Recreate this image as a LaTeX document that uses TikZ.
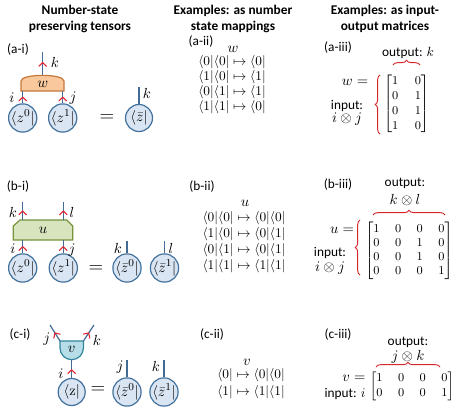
\documentclass[tikz,border=0pt]{standalone}
\usepackage{amsmath}
\usepackage[no-math]{fontspec}
\setmainfont{Carlito}
\usetikzlibrary{decorations.pathreplacing,decorations.markings}
\definecolor{legc}{RGB}{68,106,150}
\definecolor{circc}{RGB}{65,113,156}
\definecolor{circf}{RGB}{218,229,243}
\definecolor{redc}{RGB}{230,30,40}
\definecolor{bracec}{RGB}{214,38,42}
\definecolor{wfill}{RGB}{249,200,157}
\definecolor{wdraw}{RGB}{197,120,57}
\definecolor{ufill}{RGB}{215,228,189}
\definecolor{udraw}{RGB}{119,147,60}
\definecolor{vfill}{RGB}{183,222,232}
\definecolor{vdraw}{RGB}{49,133,156}
\begin{document}
\begin{tikzpicture}[x=0.75pt,y=-0.75pt,
  leg/.style={draw=legc, line width=0.9pt},
  arr/.style={postaction={decorate}, decoration={markings, mark=at position #1 with {\draw[draw=redc, line width=0.8pt, line cap=round, line join=round] (-2.8pt,2.8pt) -- (0pt,0pt) -- (-2.8pt,-2.8pt);}}},
  arr/.default=0.5,
  circ/.style={circle, draw=circc, fill=circf, line width=0.9pt, minimum size=20.25pt, inner sep=0pt, font=\fontsize{11}{13}\selectfont},
  lab/.style={font=\fontsize{10.5}{12}\selectfont, inner sep=0pt},
  body/.style={font=\fontsize{10}{12}\selectfont, inner sep=0pt, align=center},
  head/.style={font=\fontsize{10}{12}\selectfont\bfseries, align=center, inner sep=0pt},
  maprow/.style={font=\fontsize{10}{12}\selectfont, inner sep=0pt},
  eqs/.style={font=\fontsize{14}{16}\selectfont, inner sep=0pt},
  mat/.style={font=\fontsize{9.5}{11}\selectfont, inner sep=0pt},
  brace/.style={draw=bracec, line width=0.7pt, decorate, decoration={brace, amplitude=3.5pt}},
  wbox/.style={draw=wdraw, fill=wfill, line width=0.9pt},
  ubox/.style={draw=udraw, fill=ufill, line width=0.9pt},
  vbox/.style={draw=vdraw, fill=vfill, line width=0.9pt}
]
\useasboundingbox (0,0) rectangle (464,410);

% headings
\node[head] (h1) at (80,19) {Number-state\\preserving tensors};
\node[head] (h2) at (233,19) {Examples: as number\\state mappings};
\node[head] (h3) at (385,19) {Examples: as input-\\output matrices};

% ---------------- row a ----------------
\node[body] (la1) at (18,50) {(a-i)};
\draw[wbox] (21,91) -- (21,81) .. controls (21,73.5) and (64,73.5) .. (64,81) -- (64,91) -- cycle;
\node[lab] (wl) at (42.7,84) {$w$};
\coordinate (wB1) at (22.7,91);
\coordinate (wB2) at (62.7,91);
\coordinate (wT) at (42.7,75.3);
\coordinate (kA) at (42.7,52);
\node[circ] (za0) at (22.7,118) {$\langle z^0|$};
\node[circ] (za1) at (62.7,118) {$\langle z^1|$};
\draw[leg,arr] (za0) -- (wB1);
\draw[leg,arr] (za1) -- (wB2);
\draw[leg,arr=0.55] (wT) -- (kA);
\node[lab] (ia) at (12,98) {$i$};
\node[lab] (ja) at (73,98) {$j$};
\node[lab] (ka) at (55,62) {$k$};
\node[eqs] (eqa) at (107,118) {$=$};
\node[circ] (zba) at (139,118) {$\langle\bar z|$};
\coordinate (kA2) at (139,87);
\draw[leg] (zba) -- (kA2);
\node[lab] (ka2) at (147,93) {$k$};

\node[body] (la2) at (201,42) {(a-ii)};
\node[lab] (wm) at (233,49) {$w$};
\node[maprow] (ra1) at (232,62) {$\langle 0|\langle 0|\mapsto\langle 0|$};
\node[maprow] (ra2) at (232,77) {$\langle 1|\langle 0|\mapsto\langle 1|$};
\node[maprow] (ra3) at (232,92) {$\langle 0|\langle 1|\mapsto\langle 1|$};
\node[maprow] (ra4) at (232,107) {$\langle 1|\langle 1|\mapsto\langle 0|$};

\node[body] (la3) at (338,48) {(a-iii)};
\node[body] (oa) at (408,53) {output: $k$};
\node[mat] (mw) at (406.5,104) {\setlength\arraycolsep{6.2pt}\renewcommand\arraystretch{1.03}$\begin{bmatrix}1&0\\0&1\\0&1\\1&0\end{bmatrix}$};
\draw[brace] (393,65) -- (420,65);
\draw[brace] (380,134) -- (380,75);
\node[lab] (weq) at (355,82) {$w=$};
\node[body] (ina) at (347,106) {input:};
\node[lab] (ija) at (347,119) {$i\otimes j$};

% ---------------- row b ----------------
\node[body] (lb1) at (18,187) {(b-i)};
\draw[ubox] (13.3,240) -- (13.3,226) -- (20,220) -- (66.7,220) -- (72.7,226) -- (72.7,240) -- cycle;
\node[lab] (ul) at (43,230) {$u$};
\coordinate (uT1) at (22.7,220);
\coordinate (uT2) at (63.3,220);
\coordinate (uB1) at (22.7,240);
\coordinate (uB2) at (63.3,240);
\coordinate (kB) at (22.7,202);
\coordinate (lB) at (63.3,202);
\node[circ] (zb0) at (22.7,268) {$\langle z^0|$};
\node[circ] (zb1) at (63.3,268) {$\langle z^1|$};
\draw[leg,arr] (zb0) -- (uB1);
\draw[leg,arr] (zb1) -- (uB2);
\draw[leg,arr] (uT1) -- (kB);
\draw[leg,arr] (uT2) -- (lB);
\node[lab] (kb) at (13,212) {$k$};
\node[lab] (lb) at (72,212) {$l$};
\node[lab] (ib) at (13,249) {$i$};
\node[lab] (jb) at (72,250) {$j$};
\node[eqs] (eqb) at (96,269) {$=$};
\node[circ] (zbb0) at (127,268) {$\langle\bar z^0|$};
\node[circ] (zbb1) at (164.5,268) {$\langle\bar z^1|$};
\coordinate (kB2) at (127,241);
\coordinate (lB2) at (164.5,241);
\draw[leg] (zbb0) -- (kB2);
\draw[leg] (zbb1) -- (lB2);
\node[lab] (kb2) at (118,248) {$k$};
\node[lab] (lb2) at (171,248) {$l$};

\node[body] (lb2t) at (202,187) {(b-ii)};
\node[lab] (um) at (245,203) {$u$};
\node[maprow] (rb1) at (244,218) {$\langle 0|\langle 0|\mapsto\langle 0|\langle 0|$};
\node[maprow] (rb2) at (244,234) {$\langle 1|\langle 0|\mapsto\langle 0|\langle 1|$};
\node[maprow] (rb3) at (244,250) {$\langle 0|\langle 1|\mapsto\langle 0|\langle 1|$};
\node[maprow] (rb4) at (244,266) {$\langle 1|\langle 1|\mapsto\langle 1|\langle 1|$};

\node[body] (lb3) at (338,185) {(b-iii)};
\node[body] (ob) at (405,183) {output:};
\node[lab] (klb) at (405,200) {$k\otimes l$};
\node[mat] (mu) at (409,250.5) {\setlength\arraycolsep{5.8pt}\renewcommand\arraystretch{0.97}$\begin{bmatrix}1&0&0&0\\0&0&1&0\\0&0&1&0\\0&0&0&1\end{bmatrix}$};
\draw[brace] (373,215) -- (445,215);
\draw[brace] (360,275) -- (360,220);
\node[lab] (ueq) at (342,230) {$u=$};
\node[body] (inb) at (330,253) {input:};
\node[lab] (ijb) at (330,268) {$i\otimes j$};

% ---------------- row c ----------------
\node[body] (lc1) at (20,335) {(c-i)};
\draw[vbox] (60,341) -- (83.4,341) -- (83.4,348) .. controls (83.4,354.46) and (78.16,359.7) .. (71.7,359.7) .. controls (65.24,359.7) and (60,354.46) .. (60,348) -- cycle;
\node[lab] (vl) at (71.7,349) {$v$};
\coordinate (vTL) at (60,341);
\coordinate (vTR) at (83.4,341);
\coordinate (vB) at (71.7,359.7);
\coordinate (jC) at (50,325);
\coordinate (kC) at (94,325);
\node[circ] (zc) at (71.7,392) {$\langle\mathrm{z}|$};
\draw[leg,arr] (vTL) -- (jC);
\draw[leg,arr] (vTR) -- (kC);
\draw[leg,arr=0.45] (zc) -- (vB);
\node[lab] (jc) at (46.7,339) {$j$};
\node[lab] (kc) at (97,340) {$k$};
\node[lab] (ic) at (61,374) {$i$};
\node[eqs] (eqc) at (98,390) {$=$};
\node[circ] (zcb0) at (127,392) {$\langle\bar z^0|$};
\node[circ] (zcb1) at (164,392) {$\langle\bar z^1|$};
\coordinate (jC2) at (127,360);
\coordinate (kC2) at (164,360);
\draw[leg] (zcb0) -- (jC2);
\draw[leg] (zcb1) -- (kC2);
\node[lab] (jc2) at (120,367) {$j$};
\node[lab] (kc2) at (156,366) {$k$};

\node[body] (lc2) at (212,335) {(c-ii)};
\node[lab] (vm) at (247,362) {$v$};
\node[maprow] (rc1) at (251,375) {$\langle 0|\mapsto\langle 0|\langle 0|$};
\node[maprow] (rc2) at (251,392) {$\langle 1|\mapsto\langle 1|\langle 1|$};

\node[body] (lc3) at (338,335) {(c-iii)};
\node[body] (oc) at (408,342) {output:};
\node[lab] (jkc) at (408,357) {$j\otimes k$};
\node[mat] (mv) at (412,386) {\setlength\arraycolsep{5.8pt}\renewcommand\arraystretch{1.03}$\begin{bmatrix}1&0&0&0\\0&0&0&1\end{bmatrix}$};
\draw[brace] (376,367) -- (440,367);
\node[lab] (veq) at (354,378) {$v=$};
\node[body] (inc) at (345,394) {input: $i$};
\end{tikzpicture}
\end{document}
